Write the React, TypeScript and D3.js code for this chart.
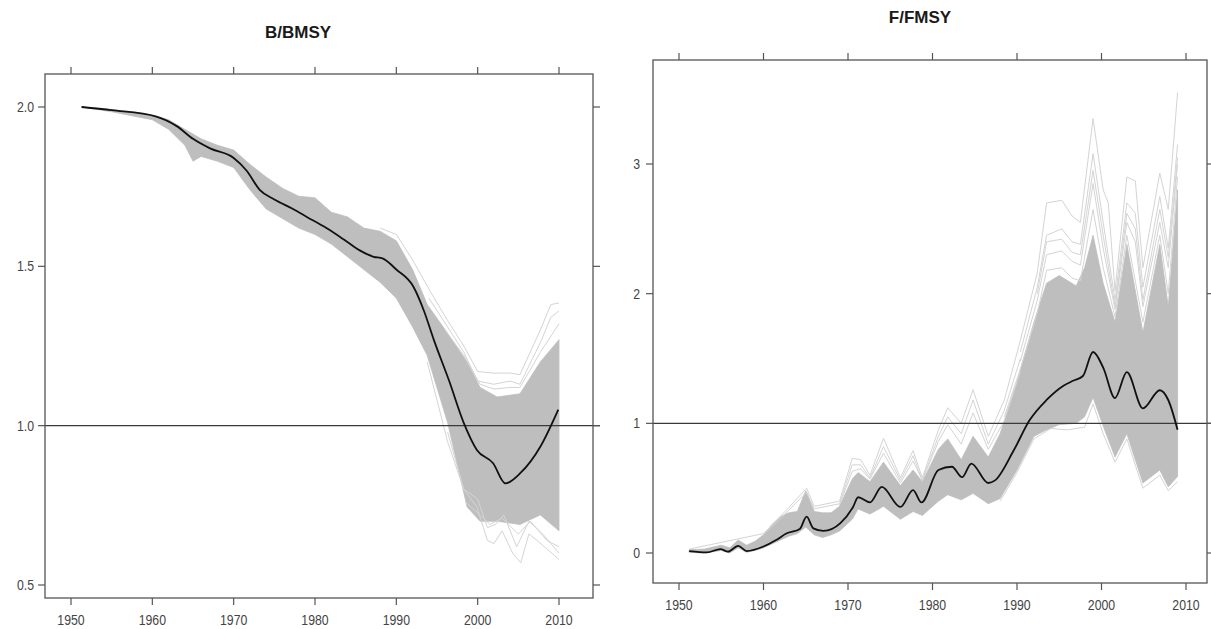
import React from 'react'
import * as d3 from 'd3'

type Pt = [number, number]
type Band = [number, number, number]

// ---- B/BMSY panel data (year, value) ----
const bTicksX = [1950, 1960, 1970, 1980, 1990, 2000, 2010]
const bTicksY = [0.5, 1.0, 1.5, 2.0]

const bMedian: Pt[] = [
  [1951.3, 2.0], [1955, 1.99], [1960.5, 1.97], [1963, 1.94], [1965, 1.9], [1967.1, 1.87],
  [1970, 1.84], [1971.6, 1.8], [1973.2, 1.74], [1975, 1.71], [1977.3, 1.68], [1979, 1.655],
  [1981.4, 1.62], [1983.5, 1.585], [1985.5, 1.55], [1987.2, 1.53], [1988.3, 1.525], [1990, 1.49],
  [1992.1, 1.436], [1993.4, 1.36], [1994.6, 1.27], [1996.5, 1.14], [1998.3, 1.008], [1999.9, 0.924],
  [2001.9, 0.882], [2003.4, 0.819], [2005.2, 0.85], [2007.7, 0.934], [2009.9, 1.05],
]

// year, low, high of the dense band
const bBand: Band[] = [
  [1951.3, 2.0, 2.0], [1955, 1.985, 1.992], [1960, 1.96, 1.975], [1962, 1.93, 1.96],
  [1964, 1.88, 1.93], [1965, 1.83, 1.915], [1966, 1.845, 1.9], [1968, 1.83, 1.88],
  [1970, 1.81, 1.865], [1972, 1.74, 1.82], [1974, 1.68, 1.78], [1976, 1.65, 1.745],
  [1978, 1.62, 1.72], [1980, 1.6, 1.715], [1982, 1.57, 1.67], [1984, 1.53, 1.655],
  [1986, 1.49, 1.62], [1988, 1.45, 1.61], [1990, 1.4, 1.58], [1992, 1.31, 1.49],
  [1993.8, 1.22, 1.38], [1996.3, 1.01, 1.29], [1998.7, 0.745, 1.2], [2000.3, 0.7, 1.12],
  [2002.4, 0.7, 1.09], [2005.2, 0.69, 1.1], [2007.7, 0.72, 1.2], [2010, 0.67, 1.27],
]

const bOuterHi1: Pt[] = [
  [1988, 1.62], [1990, 1.6], [1992, 1.52], [1994.2, 1.42], [1996.3, 1.33], [1998.3, 1.25],
  [2000, 1.17], [2001.9, 1.165], [2004, 1.165], [2005.2, 1.16], [2007.7, 1.3], [2009, 1.38], [2010, 1.385],
]
const bOuterHi2: Pt[] = [
  [1994, 1.4], [1996.3, 1.31], [1998.3, 1.23], [2000, 1.14], [2002, 1.13], [2004, 1.14],
  [2005.2, 1.13], [2007.7, 1.26], [2009, 1.34], [2010, 1.36],
]
const bOuterHi3: Pt[] = [
  [1996, 1.3], [1998.3, 1.22], [2000.3, 1.13], [2002, 1.115], [2004, 1.12], [2005.2, 1.12],
  [2007.7, 1.23], [2010, 1.32],
]
const bOuterLo1: Pt[] = [
  [1993.8, 1.2], [1996.3, 0.95], [1998.3, 0.8], [1999.9, 0.745], [2001.2, 0.64], [2002, 0.63],
  [2003, 0.67], [2004.3, 0.6], [2005.3, 0.57], [2006.3, 0.66], [2007.3, 0.64], [2010, 0.58],
]
const bOuterLo2: Pt[] = [
  [1996.3, 0.98], [1998.3, 0.8], [2000, 0.77], [2001.2, 0.68], [2002.2, 0.69], [2003.2, 0.72],
  [2004.8, 0.62], [2006.3, 0.7], [2008, 0.66], [2010, 0.6],
]
const bOuterLo3: Pt[] = [
  [1998.5, 0.76], [2000.3, 0.72], [2001.5, 0.69], [2003, 0.71], [2005, 0.66], [2006.5, 0.7],
  [2008.5, 0.64], [2010, 0.62],
]

// ---- F/FMSY panel data ----
const fTicksX = [1950, 1960, 1970, 1980, 1990, 2000, 2010]
const fTicksY = [0, 1, 2, 3]

const fMedian: Pt[] = [
  [1951.2, 0.015], [1953.3, 0.005], [1954.9, 0.03], [1955.8, 0.01], [1957, 0.055], [1958, 0.015],
  [1960, 0.05], [1961.5, 0.1], [1962.7, 0.15], [1964.3, 0.185], [1965.1, 0.28], [1965.9, 0.19],
  [1967.1, 0.17], [1969.1, 0.23], [1970.6, 0.355], [1971.2, 0.43], [1972.6, 0.39], [1974, 0.51],
  [1976.2, 0.355], [1977.7, 0.485], [1978.7, 0.39], [1980.7, 0.64], [1982.3, 0.665], [1983.5, 0.585],
  [1984.6, 0.69], [1986.6, 0.54], [1987.4, 0.56], [1989.6, 0.79], [1991.5, 1.025], [1993.5, 1.18],
  [1995.5, 1.29], [1996.7, 1.33], [1997.8, 1.365], [1999, 1.55], [2000.2, 1.43], [2001.6, 1.195],
  [2003, 1.395], [2004.9, 1.115], [2006.9, 1.255], [2007.9, 1.18], [2009, 0.95],
]

const fBand: Band[] = [
  [1951.2, 0.005, 0.025], [1953, 0.0, 0.03], [1955, 0.02, 0.06], [1956, 0.0, 0.04], [1957, 0.04, 0.1],
  [1958, 0.005, 0.06], [1959, 0.02, 0.09], [1960, 0.04, 0.14], [1961, 0.07, 0.22], [1962, 0.1, 0.28],
  [1963, 0.13, 0.31], [1964, 0.15, 0.32], [1965, 0.2, 0.48], [1966, 0.14, 0.32], [1967, 0.12, 0.31],
  [1968, 0.14, 0.31], [1969, 0.17, 0.36], [1970.5, 0.26, 0.57], [1971.2, 0.34, 0.62], [1972.6, 0.3, 0.55],
  [1974.2, 0.36, 0.7], [1976.2, 0.26, 0.52], [1977.7, 0.32, 0.64], [1978.8, 0.29, 0.55],
  [1980.7, 0.4, 0.8], [1981.8, 0.45, 0.88], [1983.4, 0.41, 0.72], [1984.8, 0.46, 0.9],
  [1986.6, 0.38, 0.74], [1988, 0.42, 0.92], [1990, 0.64, 1.32], [1992, 0.9, 1.78], [1993.5, 0.95, 2.08],
  [1995, 0.99, 2.14], [1997, 1.0, 2.06], [1998, 1.05, 2.2], [1999, 1.2, 2.45], [2000.2, 0.98, 2.08],
  [2001.6, 0.74, 1.78], [2003, 0.92, 2.38], [2004.9, 0.54, 1.7], [2006.9, 0.64, 2.38],
  [2007.9, 0.51, 1.9], [2009, 0.59, 2.8],
]

const fOuter1: Pt[] = [
  [1951.2, 0.03], [1960, 0.15], [1963, 0.35], [1965.1, 0.5], [1966, 0.36], [1969, 0.4],
  [1970.5, 0.73], [1971.5, 0.72], [1972.6, 0.6], [1974.2, 0.885], [1976.2, 0.58], [1977.7, 0.79],
  [1978.8, 0.58], [1980.7, 0.95], [1981.8, 1.12], [1983.4, 1.0], [1984.8, 1.26], [1986.6, 0.9],
  [1988.5, 1.18], [1990.4, 1.64], [1992.4, 2.16], [1993.5, 2.7], [1995.3, 2.72], [1996.5, 2.6],
  [1997.5, 2.55], [1999, 3.35], [2000.2, 2.8], [2000.8, 2.7], [2001.6, 2.02], [2003, 2.9],
  [2004, 2.87], [2004.9, 2.2], [2006.9, 2.93], [2007.9, 2.65], [2009, 3.55],
]
const fOuter2: Pt[] = [
  [1990.4, 1.55], [1992.4, 2.05], [1993.5, 2.45], [1995.3, 2.5], [1996.5, 2.4], [1997.5, 2.38],
  [1999, 3.08], [2000.2, 2.55], [2001.6, 1.95], [2003, 2.7], [2004, 2.62], [2004.9, 2.05],
  [2006.9, 2.75], [2007.9, 2.35], [2009, 3.15],
]
const fOuter3: Pt[] = [
  [1990.4, 1.48], [1992.4, 1.95], [1993.5, 2.3], [1995.3, 2.33], [1996.5, 2.25], [1997.5, 2.22],
  [1999, 2.85], [2000.2, 2.35], [2001.6, 1.88], [2003, 2.55], [2004, 2.4], [2004.9, 1.9],
  [2006.9, 2.55], [2007.9, 2.2], [2009, 3.0],
]
const fOuter4: Pt[] = [
  [1988.5, 1.05], [1990.4, 1.42], [1992.4, 1.85], [1993.5, 2.18], [1995.3, 2.2], [1996.5, 2.12],
  [1997.5, 2.1], [1999, 2.65], [2000.2, 2.2], [2001.6, 1.82], [2003, 2.45], [2004.9, 1.78],
  [2006.9, 2.45], [2007.9, 2.0], [2009, 2.9],
]
const fOuter6: Pt[] = [
  [1992.4, 2.0], [1993.5, 2.4], [1995.3, 2.42], [1996.5, 2.32], [1997.5, 2.3], [1999, 2.95],
  [2000.2, 2.45], [2001.6, 1.9], [2003, 2.62], [2004, 2.5], [2004.9, 1.95], [2006.9, 2.65],
  [2007.9, 2.28], [2009, 3.05],
]
const fOuter5: Pt[] = [
  [1960, 0.14], [1963, 0.33], [1965.1, 0.47], [1966, 0.34], [1969, 0.38], [1970.5, 0.68],
  [1971.5, 0.68], [1972.6, 0.58], [1974.2, 0.82], [1976.2, 0.56], [1977.7, 0.75], [1978.8, 0.56],
  [1980.7, 0.9], [1981.8, 1.05], [1983.4, 0.92], [1984.8, 1.18], [1986.6, 0.84], [1988.5, 1.1],
  [1990.4, 1.5],
]
const fOuter7: Pt[] = [
  [1969, 0.37], [1970.5, 0.63], [1971.5, 0.65], [1972.6, 0.57], [1974.2, 0.77], [1976.2, 0.54],
  [1977.7, 0.71], [1978.8, 0.56], [1980.7, 0.86], [1981.8, 0.99], [1983.4, 0.84], [1984.8, 1.08],
  [1986.6, 0.8], [1988.5, 1.02], [1990.4, 1.4],
]
const fOuterLo: Pt[] = [
  [1988, 0.4], [1990, 0.62], [1992, 0.88], [1994, 0.96], [1996, 0.95], [1998, 0.97], [1999, 1.15],
  [2000.2, 0.92], [2001.6, 0.7], [2003, 0.88], [2004.9, 0.5], [2006.9, 0.6], [2007.9, 0.48], [2009, 0.55],
]

const FONT = '"Liberation Sans", Arial, sans-serif'

type PanelProps = {
  title: string
  titleX: number
  titleY: number
  box: { x0: number; x1: number; y0: number; y1: number }
  x: d3.ScaleLinear<number, number>
  y: d3.ScaleLinear<number, number>
  ticksX: number[]
  ticksY: number[]
  fmtY: (v: number) => string
  median: Pt[]
  band: Band[]
  outer: Pt[][]
  refValue: number
  labelGap: number
}

function Panel(p: PanelProps) {
  const { box, x, y } = p
  const area = d3
    .area<Band>()
    .x((d) => x(d[0]))
    .y0((d) => y(d[1]))
    .y1((d) => y(d[2]))
  const line = d3
    .line<Pt>()
    .x((d) => x(d[0]))
    .y((d) => y(d[1]))
  const smooth = d3
    .line<Pt>()
    .x((d) => x(d[0]))
    .y((d) => y(d[1]))
    .curve(d3.curveMonotoneX)
  const tk = 7
  return (
    <g fontFamily={FONT}>
      <text x={p.titleX} y={p.titleY} textAnchor="middle" fontWeight="bold" fontSize={17} fill="#1a1a1a">
        {p.title}
      </text>
      <path d={area(p.band) ?? ''} fill="#bebebe" stroke="#bebebe" strokeWidth={0.8} />
      {p.outer.map((o, i) => (
        <path key={i} d={line(o) ?? ''} fill="none" stroke="#d4d4d4" strokeWidth={1} />
      ))}
      <line
        x1={box.x0}
        x2={box.x1 + tk}
        y1={y(p.refValue)}
        y2={y(p.refValue)}
        stroke="#3a3a3a"
        strokeWidth={1.2}
      />
      <path d={smooth(p.median) ?? ''} fill="none" stroke="#111" strokeWidth={1.8} />
      <rect
        x={box.x0}
        y={box.y0}
        width={box.x1 - box.x0}
        height={box.y1 - box.y0}
        fill="none"
        stroke="#555"
        strokeWidth={1.3}
      />
      {p.ticksX.map((t) => (
        <g key={'x' + t} stroke="#555" strokeWidth={1.2}>
          <line x1={x(t)} x2={x(t)} y1={box.y0} y2={box.y0 - tk} />
          <line x1={x(t)} x2={x(t)} y1={box.y1} y2={box.y1 + tk} />
        </g>
      ))}
      {p.ticksX.map((t) => (
        <text
          key={'xl' + t}
          transform={`translate(${x(t)},${box.y1 + 27}) scale(0.82,1)`}
          textAnchor="middle"
          fontSize={15}
          fill="#444"
        >
          {t}
        </text>
      ))}
      {p.ticksY.map((t) => (
        <g key={'y' + t} stroke="#555" strokeWidth={1.2}>
          <line x1={box.x0} x2={box.x0 - tk} y1={y(t)} y2={y(t)} />
          <line x1={box.x1} x2={box.x1 + tk} y1={y(t)} y2={y(t)} />
        </g>
      ))}
      {p.ticksY.map((t) => (
        <text
          key={'yl' + t}
          transform={`translate(${box.x0 - tk - p.labelGap},${y(t) + 5}) scale(0.82,1)`}
          textAnchor="end"
          fontSize={15}
          fill="#444"
        >
          {p.fmtY(t)}
        </text>
      ))}
    </g>
  )
}

export default function App() {
  const bBox = { x0: 45, x1: 593, y0: 74, y1: 598 }
  const bx = d3.scaleLinear().domain([1950, 2010]).range([71, 559])
  const by = d3.scaleLinear().domain([0.5, 2.0]).range([585, 107])

  const fBox = { x0: 653, x1: 1207, y0: 60, y1: 583 }
  const fx = d3.scaleLinear().domain([1950, 2010]).range([679, 1186])
  const fy = d3.scaleLinear().domain([0, 3]).range([553, 164])

  return (
    <svg
      width={1211}
      height={629}
      style={{ position: 'fixed', left: 0, top: 0, background: '#fff' }}
    >
      <rect width={1211} height={629} fill="#fff" />
      <Panel
        title="B/BMSY"
        titleX={298}
        titleY={38}
        box={bBox}
        x={bx}
        y={by}
        ticksX={bTicksX}
        ticksY={bTicksY}
        fmtY={d3.format('.1f')}
        median={bMedian}
        band={bBand}
        outer={[bOuterHi1, bOuterHi2, bOuterHi3, bOuterLo1, bOuterLo2, bOuterLo3]}
        refValue={1}
        labelGap={4}
      />
      <Panel
        title="F/FMSY"
        titleX={920}
        titleY={23}
        box={fBox}
        x={fx}
        y={fy}
        ticksX={fTicksX}
        ticksY={fTicksY}
        fmtY={d3.format('d')}
        median={fMedian}
        band={fBand}
        outer={[fOuter1, fOuter2, fOuter6, fOuter3, fOuter4, fOuter5, fOuter7, fOuterLo]}
        refValue={1}
        labelGap={6}
      />
    </svg>
  )
}
